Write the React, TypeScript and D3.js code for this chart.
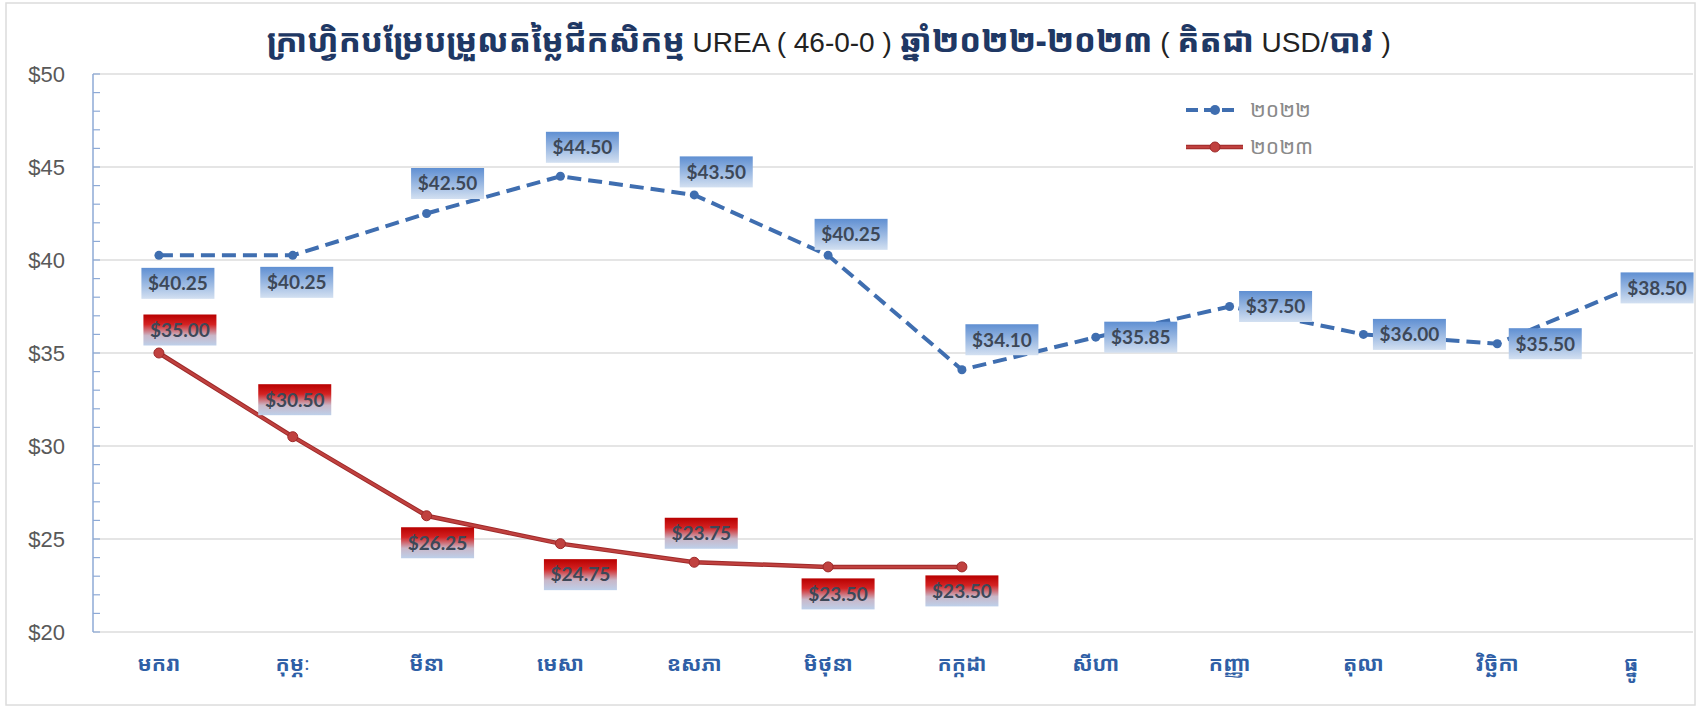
import * as d3 from "d3";

const months = ["មករា", "កុម្ភៈ", "មីនា", "មេសា", "ឧសភា", "មិថុនា", "កក្កដា", "សីហា", "កញ្ញា", "តុលា", "វិច្ឆិកា", "ធ្នូ"];
const price2022 = [40.25, 40.25, 42.5, 44.5, 43.5, 40.25, 34.1, 35.85, 37.5, 36.0, 35.5, 38.5];
const price2023 = [35.0, 30.5, 26.25, 24.75, 23.75, 23.5, 23.5];
const yTicks = [20, 25, 30, 35, 40, 45, 50];
const seriesNames = ["២០២២", "២០២៣"];
// title pieces: [text, isKhmer]
const titleParts: [string, boolean][] = [
	["ក្រាហ្វិកបម្រែបម្រួលតម្លៃជីកសិកម្ម", true],
	[" UREA ( 46-0-0 ) ", false],
	["ឆ្នាំ២០២២-២០២៣", true],
	[" ( ", false],
	["គិតជា", true],
	[" USD/", false],
	["បាវ", true],
	[" )", false],
];

// label box offsets from each point (layout only)
const offsets2022 = [[19, 28], [4, 27], [21, -30], [22, -29], [22, -23], [23, -21], [40, -30], [45, 0], [46, 0], [46, 0], [48, 0], [26, 0]];
const offsets2023 = [[21, -23], [2, -37], [11, 27], [20, 31], [7, -29], [10, 27], [0, 24]];

const W = 1701;
const H = 708;
const khmer = '"Noto Sans Khmer", "Khmer OS", "Noto Sans", sans-serif';
const latin = "'Liberation Sans Narrow', 'Liberation Sans', Arial, sans-serif";
const BLUE = "#3f6eb0";
const RED = "#c0413f";
const DARKRED = "#9e2a2a";

export default function App() {
	const x = d3.scaleBand<string>().domain(months).range([92, 1698]).padding(0);
	const y = d3.scaleLinear().domain([20, 50]).range([632, 74]);
	const cx = (i: number) => (x(months[i]) ?? 0) + x.bandwidth() / 2;
	const fmt = d3.format("$.2f");

	const line = d3
		.line<number>()
		.x((_, i) => cx(i))
		.y((d) => y(d));

	const minor = d3.range(20, 50.01, 1);
	const bw = 73;
	const bh = 31;

	const label = (v: number, i: number, off: number[], grad: string, key: string) => {
		let bx = cx(i) + off[0] - bw / 2;
		if (bx + bw > 1695) bx = 1695 - bw;
		const by = y(v) + off[1] - bh / 2;
		return (
			<g key={key}>
				<rect x={bx} y={by} width={bw} height={bh} fill={`url(#${grad})`} />
				<text
					x={bx + bw / 2}
					y={by + bh / 2}
					dy="0.36em"
					textAnchor="middle"
					fontFamily="Lato, 'Open Sans', sans-serif"
					fontWeight={700}
					fontSize={19}
					fill="#3d4858"
				>
					{fmt(v)}
				</text>
			</g>
		);
	};

	return (
		<svg width={W} height={H} style={{ position: "absolute", left: 0, top: 0, background: "#fff" }}>
			<defs>
				<linearGradient id="gBlue" x1="0" y1="0" x2="0" y2="1">
					<stop offset="0%" stopColor="#5f8fd2" />
					<stop offset="100%" stopColor="#d3e0f1" />
				</linearGradient>
				<linearGradient id="gRed" x1="0" y1="0" x2="0" y2="1">
					<stop offset="0%" stopColor="#b80000" />
					<stop offset="32%" stopColor="#d42222" />
					<stop offset="68%" stopColor="#c9b7c8" />
					<stop offset="100%" stopColor="#bdd0ea" />
				</linearGradient>
			</defs>
			<rect x={6} y={3} width={1689} height={702} fill="#fff" stroke="#dcdcdc" strokeWidth={1.5} />

			{/* title */}
			<text x={829} y={52} textAnchor="middle" fontSize={32} fill="#1f3864">
				{titleParts.map(([t, km], i) =>
					km ? (
						<tspan key={i} fontFamily={khmer} fontWeight={800}>{t}</tspan>
					) : (
						<tspan key={i} fontFamily={latin} fill="#222" fontSize={28}>{t}</tspan>
					),
				)}
			</text>

			{/* grid */}
			{yTicks.map((t) => (
				<line key={t} x1={93} x2={1693} y1={y(t)} y2={y(t)} stroke="#dcdcdc" strokeWidth={1.5} />
			))}
			{/* y axis */}
			<line x1={93} x2={93} y1={y(50)} y2={y(20)} stroke="#8eaad6" strokeWidth={1.5} />
			{minor.map((t) => (
				<line key={t} x1={93} x2={100} y1={y(t)} y2={y(t)} stroke="#8eaad6" strokeWidth={1.2} />
			))}
			{yTicks.map((t) => (
				<text
					key={t}
					x={65}
					y={y(t)}
					dy="0.35em"
					textAnchor="end"
					fontFamily="'Liberation Sans', Arial, sans-serif"
					fontSize={22}
					fill="#595959"
				>
					{d3.format("$")(t)}
				</text>
			))}
			{/* x labels */}
			{months.map((m, i) => (
				<text key={m} x={cx(i)} y={664} dy="0.35em" textAnchor="middle" fontFamily={khmer} fontWeight={700} fontSize={21} fill="#2f5fa6">
					{m}
				</text>
			))}

			{/* series 2022 */}
			<path d={line(price2022) ?? ""} fill="none" stroke={BLUE} strokeWidth={4} strokeDasharray="14 7" />
			{price2022.map((v, i) => (
				<circle key={i} cx={cx(i)} cy={y(v)} r={4.5} fill={BLUE} />
			))}
			{/* series 2023 */}
			<path d={line(price2023) ?? ""} fill="none" stroke={DARKRED} strokeWidth={4.5} />
			<path d={line(price2023) ?? ""} fill="none" stroke={RED} strokeWidth={2.5} />
			{price2023.map((v, i) => (
				<circle key={i} cx={cx(i)} cy={y(v)} r={5} fill={RED} stroke={DARKRED} strokeWidth={1} />
			))}

			{price2022.map((v, i) => label(v, i, offsets2022[i], "gBlue", `a${i}`))}
			{price2023.map((v, i) => label(v, i, offsets2023[i], "gRed", `b${i}`))}

			{/* legend */}
			<line x1={1186} x2={1238} y1={110} y2={110} stroke={BLUE} strokeWidth={4} strokeDasharray="12 6" />
			<circle cx={1215} cy={110} r={5} fill={BLUE} />
			<text x={1250} y={110} dy="0.35em" fontFamily={khmer} fontSize={21} fill="#8a8a8a">
				{seriesNames[0]}
			</text>
			<line x1={1186} x2={1243} y1={147} y2={147} stroke={DARKRED} strokeWidth={4.5} />
			<line x1={1186} x2={1243} y1={147} y2={147} stroke={RED} strokeWidth={2.5} />
			<circle cx={1215} cy={147} r={5} fill={RED} stroke={DARKRED} />
			<text x={1250} y={147} dy="0.35em" fontFamily={khmer} fontSize={21} fill="#8a8a8a">
				{seriesNames[1]}
			</text>
		</svg>
	);
}
